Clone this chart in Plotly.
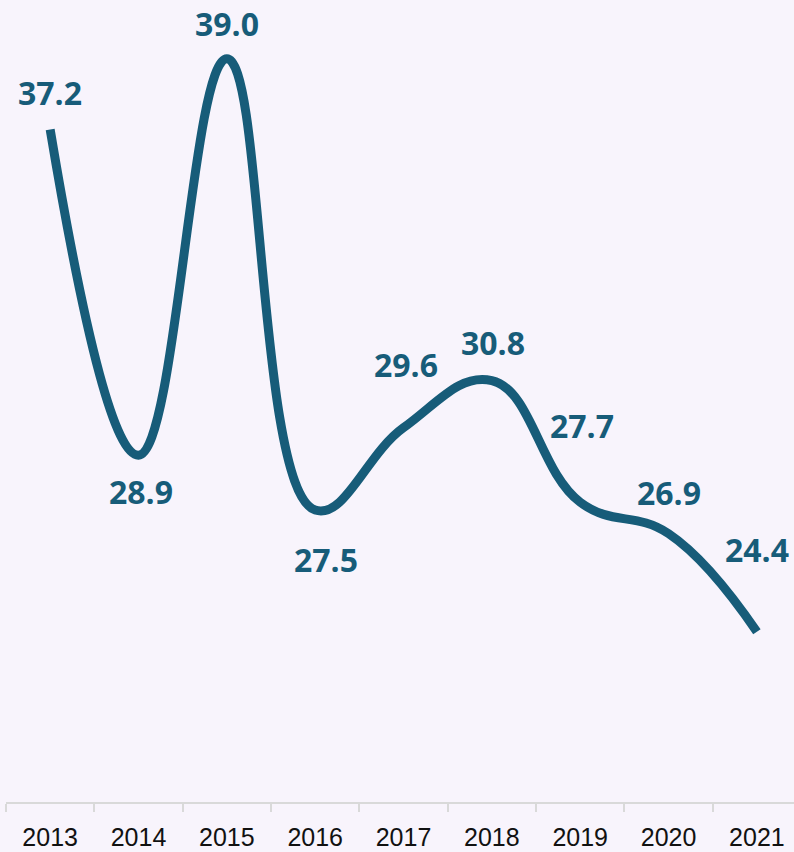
import plotly.graph_objects as go

years = ["2013", "2014", "2015", "2016", "2017", "2018", "2019", "2020", "2021"]
values = [37.2, 28.9, 39.0, 27.5, 29.6, 30.8, 27.7, 26.9, 24.4]
labels = ["37.2", "28.9", "39.0", "27.5", "29.6", "30.8", "27.7", "26.9", "24.4"]

LINE = "#175C79"
BG = "#F8F4FC"

# label offsets in pixels (xshift, yshift)
offsets = [(0, 37), (2, -36), (0, 35), (11, -49), (2, 63), (1, 38), (2, 77), (0, 41), (0, 82)]

fig = go.Figure()
fig.add_trace(go.Scatter(
    x=years, y=values, mode="lines",
    line=dict(color=LINE, width=9, shape="spline", smoothing=1.2),
    hoverinfo="skip",
))

for i, (v, t, (dx, dy)) in enumerate(zip(values, labels, offsets)):
    fig.add_annotation(
        x=i, y=v, xref="x", yref="y", text="<b>" + t + "</b>", showarrow=False,
        xshift=dx, yshift=dy,
        font=dict(family="Open Sans", size=32, color=LINE),
    )

fig.update_layout(
    width=794, height=852,
    margin=dict(l=6, r=0, t=0, b=50),
    paper_bgcolor=BG, plot_bgcolor=BG,
    showlegend=False,
)
fig.update_xaxes(
    type="category", range=[-0.5, 8.42],
    showline=True, linecolor="#D9D9D9", linewidth=2,
    ticks="outside", tickson="boundaries", ticklen=8, tickcolor="#D9D9D9", tickwidth=2,
    tickfont=dict(family="Liberation Sans", size=25, color="#111111"),
    ticklabelstandoff=12,
    showgrid=False, zeroline=False,
)
fig.update_yaxes(
    range=[20.06, 40.5], visible=False, showgrid=False, zeroline=False,
)

fig.write_html("out.html")
